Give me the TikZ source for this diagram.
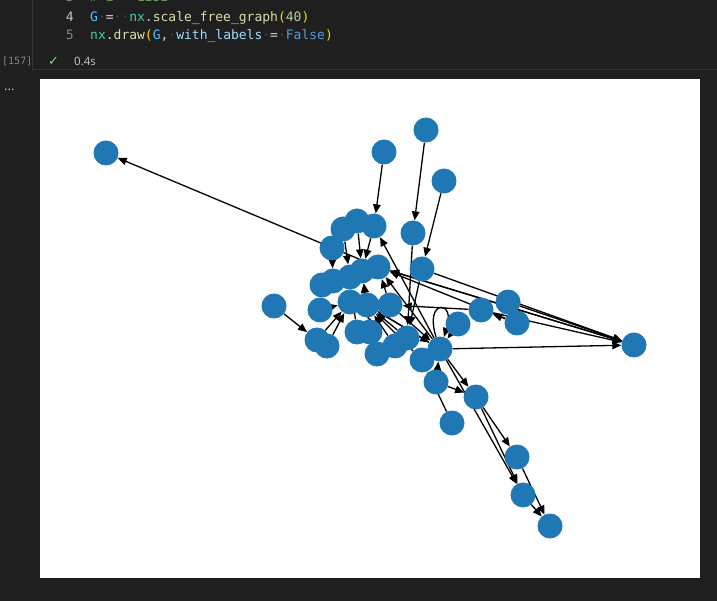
\documentclass[tikz,border=0pt]{standalone}
\usepackage{fontspec}
\setmainfont{Open Sans}
\newfontfamily\codefont{DejaVu Sans Mono}
\newfontfamily\symfont{DejaVu Sans}
\usepackage{tikz}
\usetikzlibrary{arrows.meta,backgrounds,positioning}

\definecolor{pagebg}{HTML}{1F1F1F}
\definecolor{cellline}{HTML}{333333}
\definecolor{nodeblue}{HTML}{1F77B4}
\definecolor{varblue}{HTML}{4FC1FF}
\definecolor{kwblue}{HTML}{569CD6}
\definecolor{nxteal}{HTML}{4EC9B0}
\definecolor{fnyellow}{HTML}{DCDCAA}
\definecolor{brgold}{HTML}{FFD700}
\definecolor{numgreen}{HTML}{B5CEA8}
\definecolor{parblue}{HTML}{9CDCFE}
\definecolor{plain}{HTML}{D4D4D4}
\definecolor{wsdot}{HTML}{4A4A4A}
\definecolor{lnum}{HTML}{858585}
\definecolor{lcur}{HTML}{C6C6C6}
\definecolor{okgreen}{HTML}{89D185}
\definecolor{cmtgreen}{HTML}{6A9955}

\newcommand{\tok}[2]{\textcolor{#1}{#2}}

\begin{document}
\begin{tikzpicture}[x=1pt,y=1pt,
    vert/.style={circle, fill=nodeblue, minimum size=25pt, inner sep=0pt},
    link/.style={-{Triangle[length=9pt,width=7.5pt]}, line width=1.3pt, black},
    codetxt/.style={font=\codefont\fontsize{13}{15}\selectfont, inner sep=0pt, anchor=base west},
    linenum/.style={font=\codefont\fontsize{13}{15}\selectfont, inner sep=0pt, anchor=base east, text=lnum},
    uitxt/.style={inner sep=0pt, anchor=base west}]
\useasboundingbox (0,0) rectangle (717,-601);

% cell: code lines
\node[linenum] (ln3) at (74,-2) {3};
\node[codetxt, text=cmtgreen] (code3) at (90,-2) {\# i = 1252};
\node[linenum, text=lcur] (ln4) at (74,-22) {4};
\node[codetxt] (code4) at (90,-22) {\tok{varblue}{G}\tok{wsdot}{·}\tok{plain}{=}\tok{wsdot}{··}\tok{nxteal}{nx}\tok{plain}{.}\tok{fnyellow}{scale\_free\_graph}\tok{brgold}{(}\tok{numgreen}{40}\tok{brgold}{)}};
\node[linenum] (ln5) at (74,-40) {5};
\node[codetxt] (code5) at (90,-40) {\tok{nxteal}{nx}\tok{plain}{.}\tok{fnyellow}{draw}\tok{brgold}{(}\tok{varblue}{G}\tok{plain}{,}\tok{wsdot}{·}\tok{parblue}{with\_labels}\tok{wsdot}{·}\tok{plain}{=}\tok{wsdot}{·}\tok{kwblue}{False}\tok{brgold}{)}};

% run status
\node[uitxt, font=\codefont\fontsize{10}{12}\selectfont, text=lnum] (count) at (2,-64.5) {[157]};
\node[uitxt, font=\symfont\fontsize{13}{15}\selectfont, text=okgreen] (check) at (48,-66) {✓};
\node[uitxt, font=\fontsize{11.5}{13}\selectfont, text=lcur] (time) at (74,-66) {0.4s};
\node[uitxt, font=\fontsize{13}{14}\selectfont, text=lcur] (more) at (4,-91) {...};

% graph nodes
\node[vert] (v1)  at (106,-153) {};
\node[vert] (v2)  at (384,-152) {};
\node[vert] (v3)  at (426,-130) {};
\node[vert] (v4)  at (444,-181) {};
\node[vert] (v5)  at (413,-233) {};
\node[vert] (v6)  at (422,-269) {};
\node[vert] (v7)  at (374,-226) {};
\node[vert] (v8)  at (357,-221) {};
\node[vert] (v9)  at (343,-229) {};
\node[vert] (v10) at (332,-248) {};
\node[vert] (v11) at (274,-306) {};
\node[vert] (v12) at (320,-310) {};
\node[vert] (v13) at (317,-340) {};
\node[vert] (v14) at (327,-346) {};
\node[vert] (v15) at (322,-285) {};
\node[vert] (v16) at (333,-281) {};
\node[vert] (v17) at (350,-277) {};
\node[vert] (v18) at (362,-271) {};
\node[vert] (v19) at (378,-267) {};
\node[vert] (v20) at (350,-302) {};
\node[vert] (v21) at (367,-305) {};
\node[vert] (v22) at (390,-305) {};
\node[vert] (v23) at (357,-332) {};
\node[vert] (v24) at (370,-332) {};
\node[vert] (v25) at (377,-354) {};
\node[vert] (v26) at (395,-346) {};
\node[vert] (v27) at (407,-338) {};
\node[vert] (v28) at (422,-360) {};
\node[vert] (v29) at (440,-349) {};
\node[vert] (v30) at (458,-324) {};
\node[vert] (v31) at (481,-310) {};
\node[vert] (v32) at (508,-302) {};
\node[vert] (v33) at (517,-323) {};
\node[vert] (v34) at (634,-345) {};
\node[vert] (v35) at (436,-382) {};
\node[vert] (v36) at (476,-397) {};
\node[vert] (v37) at (452,-423) {};
\node[vert] (v38) at (517,-457) {};
\node[vert] (v39) at (523,-495) {};
\node[vert] (v40) at (550,-526) {};

\begin{scope}[on background layer]
  \fill[pagebg] (0,0) rectangle (717,-601);
  \draw[cellline, line width=1pt] (32.5,0) -- (32.5,-70) -- (717,-70);
  \fill[white] (40,-79) rectangle (700,-578);

  \path[link] (v19) edge (v1)
              (v2)  edge (v7)
              (v3)  edge (v5)
              (v4)  edge (v6)
              (v7)  edge (v18)
              (v8)  edge (v18)
              (v9)  edge (v17)
              (v10) edge (v16)
              (v11) edge (v13)
              (v12) edge (v20)
              (v13) edge (v20)
              (v14) edge (v20)
              (v15) edge (v17)
              (v20) edge (v17)
              (v21) edge (v18)
              (v23) edge (v17)
              (v24) edge (v18)
              (v25) edge (v21)
              (v26) edge (v21)
              (v27) edge (v21)
              (v28) edge (v21)
              (v29) edge (v21)
              (v22) edge (v19)
              (v5)  edge (v27)
              (v6)  edge (v27)
              (v29) edge (v7)
              (v29) edge (v19)
              (v34) edge (v19)
              (v19) edge (v34)
              (v33) edge (v19)
              (v6)  edge (v34)
              (v31) edge (v34)
              (v32) edge (v34)
              (v29) edge (v34)
              (v31) edge (v22)
              (v33) edge (v31)
              (v30) edge (v29)
              (v29) edge[out=108, in=72, min distance=40pt] (v29)
              (v21) edge (v29)
              (v22) edge (v29)
              (v35) edge (v29)
              (v35) edge (v36)
              (v29) edge (v36)
              (v37) edge (v28)
              (v29) edge (v39)
              (v36) edge (v39)
              (v36) edge (v38)
              (v38) edge (v40)
              (v39) edge (v40);
\end{scope}
\end{tikzpicture}
\end{document}
